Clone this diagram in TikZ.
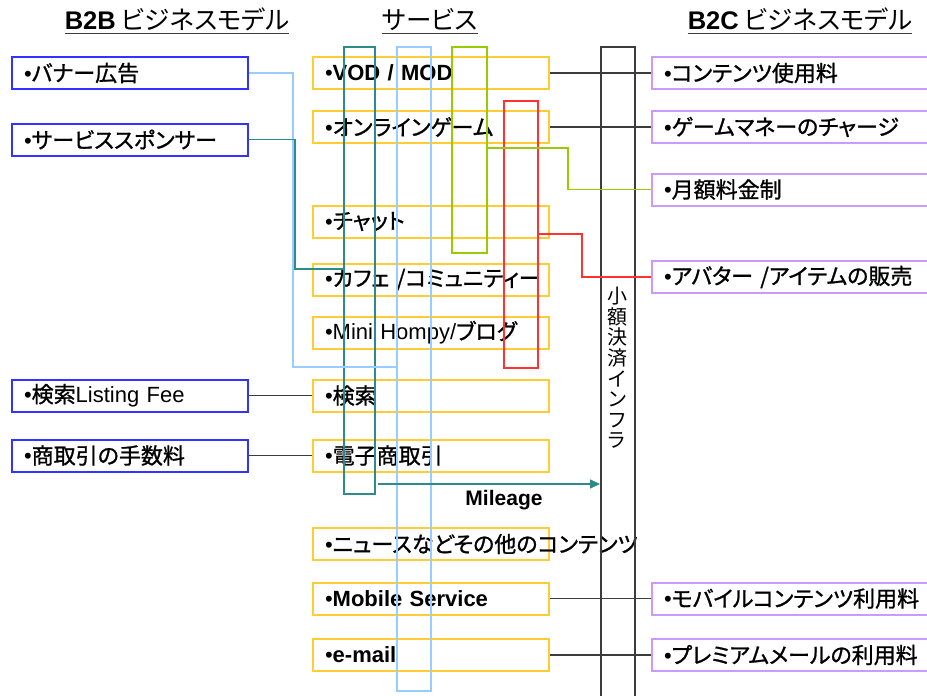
\documentclass[tikz,border=0pt]{standalone}
\usepackage{fontspec}
\setmainfont{Noto Sans CJK JP}[RawFeature={+palt;embolden=1.1}]
\newfontfamily\headjp{Noto Sans CJK JP}[RawFeature=+palt]
\newfontfamily\arial{Liberation Sans}
\usetikzlibrary{arrows.meta, positioning}

\definecolor{b2bblue}{RGB}{51,51,255}
\definecolor{svcgold}{RGB}{255,204,51}
\definecolor{b2cviolet}{RGB}{204,153,255}
\definecolor{mileteal}{RGB}{46,139,139}
\definecolor{skyblue}{RGB}{153,204,255}
\definecolor{leafgreen}{RGB}{153,204,0}
\definecolor{itemred}{RGB}{255,51,51}
\definecolor{wiregray}{RGB}{60,60,60}
\newcommand{\bul}{{\arial •}}

\begin{document}
\begin{tikzpicture}[
      x=1pt, y=-1pt, on grid, node distance=2cm,
      >={Triangle[length=10pt,width=9pt]},
      every node/.style={font=\fontsize{22}{26}\selectfont},
      box/.style={draw, line width=2pt, minimum height=32pt, inner xsep=12pt, inner ysep=0pt, text width=212pt, align=left},
      b2b/.style={box, draw=b2bblue},
      service/.style={box, draw=svcgold},
      b2c/.style={box, draw=b2cviolet, text width=266pt},
      column/.style={draw=#1, line width=1.6pt, inner sep=0pt, anchor=north west},
      wire/.style={draw=wiregray, line width=1.4pt},
      header/.style={font=\headjp\fontsize{25.5}{30}\selectfont, inner sep=0pt, anchor=base},
      ]

      \fill[white] (0,0) rectangle (927,696);
      \useasboundingbox (0,0) rectangle (927,696);
      \clip (0,0) rectangle (927,696);

      \node[header] (b2bhead) at (177,30) {{\arial\bfseries B2B} ビジネスモデル};
      \node[header] (servicehead) at (430,30) {サービス};
      \node[header] (b2chead) at (800,30) {{\arial\bfseries B2C} ビジネスモデル};
      \foreach \h in {b2bhead, servicehead, b2chead}
        \draw[line width=1.7pt, wiregray] ([yshift=-3.5pt]\h.base west) -- ([yshift=-3.5pt]\h.base east);

      \node[service] (vod)    at (431,73)    {\bul{\arial\bfseries VOD / MOD}};
      \node[service] (game)   at (431,127)   {\bul オンラインゲーム};
      \node[service] (chat)   at (431,221.5) {\bul チャット};
      \node[service] (cafe)   at (431,279.5) {\mbox{\bul カフェ /コミュニティー}};
      \node[service] (blog)   at (431,332.5) {\mbox{\bul{\arial Mini Hompy/}ブログ}};
      \node[service] (search) at (431,395.5) {\bul 検索};
      \node[service] (ecom)   at (431,455.5) {\bul 電子商取引};
      \node[service] (news)   at (431,544)   {\mbox{\bul ニュースなどその他のコンテンツ}};
      \node[service] (mobile) at (431,598.5) {\bul{\arial\bfseries Mobile Service}};
      \node[service] (email)  at (431,655)   {\bul{\arial\bfseries e-mail}};

      \node[b2b] (banner)     [left=301pt of vod]    {\bul バナー広告};
      \node[b2b] (sponsor)    at (130,139.5)         {\bul サービススポンサー};
      \node[b2b] (listing)    [left=301pt of search] {\mbox{\bul 検索{\arial Listing Fee}}};
      \node[b2b] (commission) [left=301pt of ecom]   {\bul 商取引の手数料};

      \node[b2c] (usage)     [right=366pt of vod]    {\bul コンテンツ使用料};
      \node[b2c] (charge)    [right=366pt of game]   {\bul ゲームマネーのチャージ};
      \node[b2c] (monthly)   at (797,189.5)          {\bul 月額料金制};
      \node[b2c] (itemsale)  at (797,277)            {\mbox{\bul アバター /アイテムの販売}};
      \node[b2c] (mobilefee) [right=366pt of mobile] {\bul モバイルコンテンツ利用料};
      \node[b2c] (mailfee)   [right=366pt of email]  {\bul プレミアムメールの利用料};

      \node[column=mileteal, minimum width=31pt, minimum height=447pt] (milecol) at (343,46) {};
      \node[column=skyblue, minimum width=34pt, minimum height=644pt] (skycol) at (396,46) {};
      \node[column=leafgreen, minimum width=35pt, minimum height=206pt] (leafcol) at (451,46) {};
      \node[column=itemred, minimum width=34pt, minimum height=267pt] (redcol) at (503,100) {};
      \node[column=wiregray, minimum width=34pt, minimum height=700pt] (infra) at (600,46) {};
      \node[font=\headjp\fontsize{20}{20.6}\selectfont, align=center, inner sep=0pt] (infralabel) at (617,368)
        {小\\額\\決\\済\\イ\\ン\\フ\\ラ};

      \coordinate (skyturn) at (293,367);
      \coordinate (tealturn) at (295,269);
      \coordinate (leafturn) at (568,148);
      \coordinate (redturn) at (582,234);
      \coordinate (milestart) at (378,484);

      \draw[skyblue, line width=1.3pt] (banner.east) -| (skyturn) -- (skyturn -| skycol.west);
      \draw[mileteal, line width=1.3pt] (sponsor.east) -| (tealturn) -- (tealturn -| milecol.west);
      \draw[leafgreen, line width=1.3pt] (leafturn -| leafcol.east) -- (leafturn) |- (monthly.west);
      \draw[itemred, line width=1.3pt] (redturn -| redcol.east) -- (redturn) |- (itemsale.west);

      \draw[wire] (vod.east) -- (usage.west);
      \draw[wire] (game.east) -- (charge.west);
      \draw[wire] (mobile.east) -- (mobilefee.west);
      \draw[wire] (email.east) -- (mailfee.west);
      \draw[wire] (listing.east) -- (search.west);
      \draw[wire] (commission.east) -- (ecom.west);

      \draw[mileteal, line width=1.6pt, ->] (milestart) -- (milestart -| infra.west);
      \node[font=\arial\bfseries\fontsize{21}{25}\selectfont, anchor=base] (mileage) at (504,505) {Mileage};
    \end{tikzpicture}
\end{document}
